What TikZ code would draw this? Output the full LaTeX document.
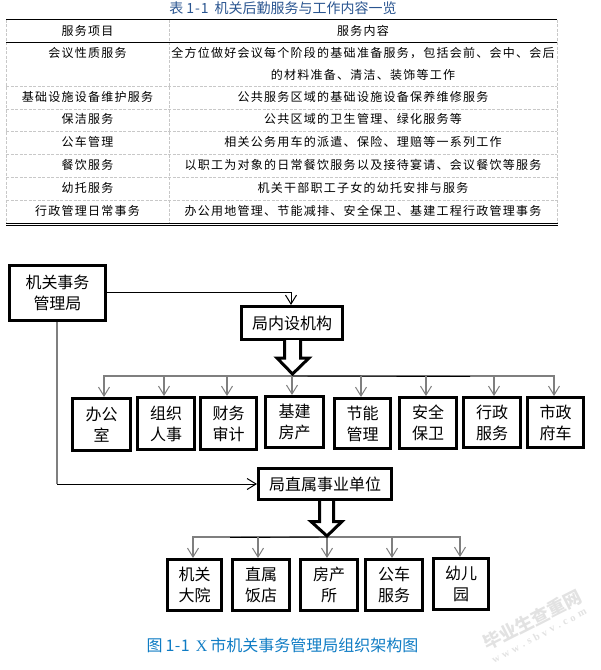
\documentclass[tikz,border=0pt]{standalone}
\usepackage{fontspec}
\setmainfont{Liberation Serif}
\newfontfamily\cjk{Noto Sans CJK SC}
\newfontfamily\cjkwide[LetterSpace=10.5]{Noto Sans CJK SC}
\usetikzlibrary{arrows.meta}
\definecolor{titleblue}{HTML}{2A5590}
\definecolor{capblue}{HTML}{0F7CC4}
\definecolor{gridgrey}{HTML}{C8C8C8}
\definecolor{linegrey}{HTML}{7F7F7F}
\definecolor{wmgrey}{HTML}{E2E2E2}
\tikzset{
  cell/.style={inner sep=0pt,text=black,font=\cjkwide\fontsize{12}{14}\selectfont},
  gridline/.style={draw=gridgrey,line width=.8pt,dash pattern=on 3pt off 1.5pt},
  rule/.style={draw=black,line width=1pt},
  orgbox/.style={draw=black,line width=3pt,fill=white,inner sep=0pt,align=center,font=\cjk\fontsize{16}{21}\selectfont},
  greyline/.style={draw=linegrey,line width=2pt},
  thinline/.style={draw=black,line width=.9pt},
  tip/.style={-{Straight Barb[length=9pt,width=11pt,line width=1pt]}},
  blockarrow/.style={draw=black,line width=3pt,fill=white,line join=miter}
}
\newcommand{\bx}[6]{%
  \pgfmathsetmacro{\bxw}{#4-#2-3}\pgfmathsetmacro{\bxh}{#5-#3-3}%
  \node[orgbox,minimum width=\bxw pt,minimum height=\bxh pt] (#1) at ({(#2+#4)/2},{(#3+#5)/2}) {#6};}
\begin{document}
\begin{tikzpicture}[x=1pt,y=-1pt]
\useasboundingbox (0,0) rectangle (601,670);
% --- table
\node[inner sep=0pt,text=titleblue,font=\cjk\fontsize{14}{16}\selectfont] (tabtitle) at (283,8) {表\hspace{3pt}1\hspace{1pt}-\hspace{1pt}1\hspace{6pt}机关后勤服务与工作内容一览};
\foreach \yy in {86,109,131,154,177,200}{\draw[gridline] (6,\yy.5) -- (557,\yy.5);}
\foreach \xx in {6.5,169.5,557}{\draw[gridline] (\xx,19.5) -- (\xx,223);}
\draw[rule] (6,19.5) -- (557,19.5);
\draw[rule] (6,42.5) -- (557,42.5);
\draw[rule] (6,223.5) -- (558,223.5);
\draw[rule] (6,225.7) -- (558,225.7);
\node[cell] (h1) at (87.5,30.5) {服务项目};
\node[cell] (h2) at (363,30.5) {服务内容};
\node[cell] (a1) at (87.5,53) {会议性质服务};
\node[cell] (b1) at (363,53) {全方位做好会议每个阶段的基础准备服务，包括会前、会中、会后};
\node[cell] (b1x) at (363,74.5) {的材料准备、清洁、装饰等工作};
\node[cell] (a2) at (87.5,97) {基础设施设备维护服务};
\node[cell] (b2) at (363,97) {公共服务区域的基础设施设备保养维修服务};
\node[cell] (a3) at (87.5,119) {保洁服务};
\node[cell] (b3) at (363,119) {公共区域的卫生管理、绿化服务等};
\node[cell] (a4) at (87.5,142) {公车管理};
\node[cell] (b4) at (363,142) {相关公务用车的派遣、保险、理赔等一系列工作};
\node[cell] (a5) at (87.5,165) {餐饮服务};
\node[cell] (b5) at (363,165) {以职工为对象的日常餐饮服务以及接待宴请、会议餐饮等服务};
\node[cell] (a6) at (87.5,188) {幼托服务};
\node[cell] (b6) at (363,188) {机关干部职工子女的幼托安排与服务};
\node[cell] (a7) at (87.5,211) {行政管理日常事务};
\node[cell] (b7) at (363,211) {办公用地管理、节能减排、安全保卫、基建工程行政管理事务};
% --- org chart boxes
\bx{root}{8}{264}{107}{322}{机关事务\\管理局}
\bx{inner}{240}{305}{344}{341}{局内设机构}
\bx{n1}{71}{397}{132}{452}{办公\\室}
\bx{n2}{136}{396}{196}{451}{组织\\人事}
\bx{n3}{199}{396}{258}{451}{财务\\审计}
\bx{n4}{264}{395}{325}{449}{基建\\房产}
\bx{n5}{333}{397}{392}{450}{节能\\管理}
\bx{n6}{398}{396}{458}{450}{安全\\保卫}
\bx{n7}{462}{396}{522}{449}{行政\\服务}
\bx{n8}{526}{396}{585}{449}{市政\\府车}
\bx{direct}{257}{467}{393}{501}{局直属事业单位}
\bx{m1}{166}{558}{223}{612}{机关\\大院}
\bx{m2}{231}{558}{291}{612}{直属\\饭店}
\bx{m3}{299}{558}{359}{612}{房产\\所}
\bx{m4}{364}{558}{424}{612}{公车\\服务}
\bx{m5}{432}{557}{490}{611}{幼儿\\园}
% --- root connectors
\coordinate (rt) at (291,292.5);
\coordinate (tr) at (57,484);
\draw[thinline,tip] (root.east |- rt) -- (rt) -- (rt |- inner.north);
\draw[greyline] (root.south -| tr) -- (tr);
\draw[thinline,tip] (tr) -- (direct.west |- tr);
% --- upper bus
\coordinate (u1) at (104,376);\coordinate (u2) at (164,376);\coordinate (u3) at (227,376);\coordinate (u4) at (292,376);
\coordinate (u5) at (361,376);\coordinate (u6) at (426,376);\coordinate (u7) at (494,376);\coordinate (u8) at (554,376);
\draw[greyline,line cap=rect] (u1) -- (u8);
\draw[thinline] (u4) -- (470,376.5);
\foreach \i in {1,...,8}{\draw[greyline,tip] (u\i) -- (u\i |- n\i.north);}
% --- lower bus
\coordinate (l1) at (193,537);\coordinate (l2) at (258,537);\coordinate (l3) at (327,537);\coordinate (l4) at (392,537);\coordinate (l5) at (460,537);
\draw[greyline,line cap=rect] (l1) -- (l5);
\draw[thinline] (230,537.5) -- (l3);
\foreach \i in {1,...,5}{\draw[greyline,tip] (l\i) -- (l\i |- m\i.north);}
% --- block arrows
\draw[blockarrow] (284.5,340) -- (284.5,358) -- (277,358) -- (292.5,374) -- (309,358) -- (300.5,358) -- (300.5,340);
\draw[blockarrow] (319.5,501) -- (319.5,521.5) -- (311,521.5) -- (327,536) -- (342,521.5) -- (333.5,521.5) -- (333.5,501);
% --- caption and watermark
\node[inner sep=0pt,text=capblue,font=\cjk\fontsize{16}{18}\selectfont] (figcap) at (282.5,645) {图\hspace{3pt}1\hspace{.5pt}-\hspace{.5pt}1\hspace{6pt}{\rmfamily X}\hspace{3pt}市机关事务管理局组织架构图};
\node[inner sep=0pt,text=wmgrey,rotate=27,font=\cjk\bfseries\fontsize{18}{20}\selectfont] (wm1) at (532,620) {毕业生查重网};
\node[inner sep=0pt,text=wmgrey,rotate=28,font=\bfseries\fontsize{10.5}{12}\selectfont] (wm2) at (539,635.5) {w\,\,w\,\,w\,\,.\,\,s\,\,b\,\,v\,\,v\,\,.\,\,c\,\,o\,\,m};
\end{tikzpicture}
\end{document}
